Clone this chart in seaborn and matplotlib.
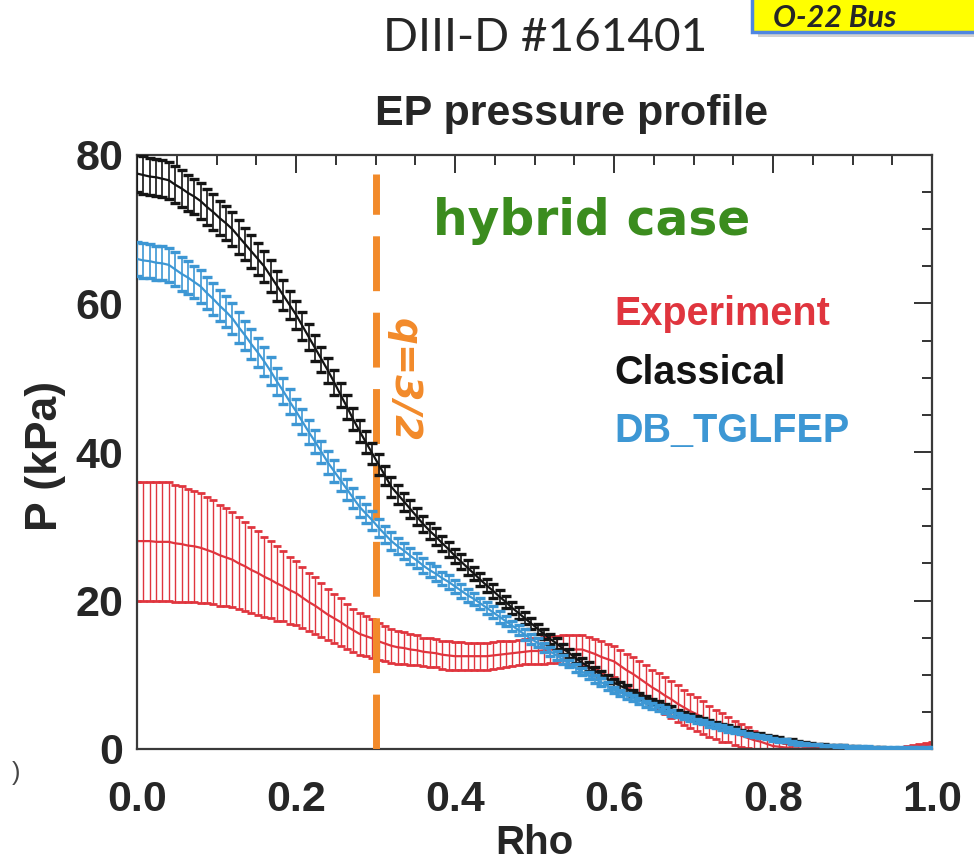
import numpy as np
import pandas as pd
import matplotlib
matplotlib.use("Agg")
import matplotlib.pyplot as plt
import seaborn as sns
from matplotlib.ticker import MultipleLocator
from matplotlib.patches import Rectangle
from matplotlib.font_manager import FontProperties

# normalized minor radius grid (step 0.008)
rho = np.linspace(0.0, 1.0, 126)

# EP pressure [kPa] and 1-sigma uncertainty for each profile
p_experiment = [
    28.0, 28.0, 28.0, 27.9, 27.9, 27.9, 27.7, 27.6, 27.4, 27.3,
    27.1, 26.8, 26.5, 26.1, 25.8, 25.5, 25.0, 24.6, 24.1, 23.7,
    23.2, 22.8, 22.3, 21.9, 21.4, 21.0, 20.4, 19.8, 19.3, 18.7,
    18.1, 17.6, 17.1, 16.5, 16.0, 15.5, 15.2, 14.9, 14.5, 14.2,
    13.9, 13.7, 13.6, 13.4, 13.3, 13.1, 13.0, 12.9, 12.7, 12.6,
    12.5, 12.5, 12.5, 12.5, 12.5, 12.5, 12.6, 12.7, 12.8, 12.9,
    13.0, 13.1, 13.2, 13.2, 13.3, 13.4, 13.4, 13.4, 13.4, 13.4,
    13.4, 13.1, 12.8, 12.4, 12.1, 11.8, 11.2, 10.6, 10.1, 9.5,
    8.9, 8.3, 7.8, 7.2, 6.7, 6.1, 5.6, 5.1, 4.7, 4.2,
    3.7, 3.3, 2.9, 2.6, 2.2, 1.8, 1.5, 1.2, 1.0, 0.7,
    0.4, 0.3, 0.2, 0.1, 0.1, 0.0, 0.0, 0.0, 0.0, 0.0,
    0.0, 0.0, 0.0, 0.0, 0.0, 0.0, 0.0, 0.0, 0.0, 0.1,
    0.1, 0.2, 0.3, 0.4, 0.5, 0.6,
]
err_experiment = [
    8.0, 8.0, 8.0, 8.0, 8.0, 8.0, 7.9, 7.8, 7.6, 7.5,
    7.4, 7.2, 7.0, 6.8, 6.6, 6.4, 6.2, 6.0, 5.8, 5.6,
    5.4, 5.2, 5.0, 4.7, 4.5, 4.3, 4.1, 3.9, 3.8, 3.6,
    3.4, 3.3, 3.2, 3.0, 2.9, 2.8, 2.7, 2.6, 2.5, 2.4,
    2.3, 2.2, 2.1, 2.1, 2.0, 1.9, 1.9, 1.9, 1.9, 1.9,
    1.9, 1.9, 1.8, 1.8, 1.8, 1.8, 1.8, 1.8, 1.7, 1.7,
    1.7, 1.7, 1.7, 1.8, 1.8, 1.8, 1.8, 1.9, 1.9, 2.0,
    2.0, 2.0, 2.0, 2.1, 2.1, 2.1, 2.2, 2.2, 2.3, 2.3,
    2.4, 2.4, 2.4, 2.5, 2.5, 2.5, 2.4, 2.3, 2.3, 2.2,
    2.1, 2.0, 1.9, 1.7, 1.6, 1.5, 1.4, 1.2, 1.1, 0.9,
    0.8, 0.7, 0.6, 0.5, 0.4, 0.3, 0.3, 0.2, 0.2, 0.1,
    0.1, 0.1, 0.1, 0.1, 0.1, 0.1, 0.1, 0.1, 0.2, 0.2,
    0.2, 0.2, 0.3, 0.3, 0.3, 0.3,
]
p_classical = [
    77.5, 77.3, 77.1, 77.0, 76.8, 76.6, 76.0, 75.5, 74.9, 74.4,
    73.8, 73.0, 72.3, 71.5, 70.8, 70.0, 69.0, 68.0, 67.0, 66.0,
    65.0, 63.7, 62.4, 61.1, 59.8, 58.5, 57.0, 55.5, 54.0, 52.5,
    51.0, 49.4, 47.7, 46.1, 44.4, 42.8, 41.3, 39.8, 38.3, 36.8,
    35.3, 34.3, 33.3, 32.3, 31.3, 30.3, 29.4, 28.6, 27.7, 26.9,
    26.0, 25.2, 24.4, 23.6, 22.8, 22.0, 21.3, 20.5, 19.8, 19.0,
    18.3, 17.6, 16.9, 16.2, 15.5, 14.8, 14.2, 13.5, 12.9, 12.2,
    11.6, 11.1, 10.5, 10.0, 9.4, 8.9, 8.5, 8.1, 7.6, 7.2,
    6.8, 6.4, 6.1, 5.7, 5.4, 5.0, 4.7, 4.4, 4.2, 3.9,
    3.6, 3.4, 3.1, 2.9, 2.6, 2.4, 2.2, 2.0, 1.9, 1.7,
    1.5, 1.4, 1.2, 1.1, 0.9, 0.8, 0.7, 0.6, 0.6, 0.5,
    0.4, 0.4, 0.3, 0.3, 0.2, 0.2, 0.2, 0.2, 0.1, 0.1,
    0.1, 0.1, 0.1, 0.0, 0.0, 0.0,
]
err_classical = [
    2.5, 2.5, 2.5, 2.5, 2.5, 2.5, 2.5, 2.5, 2.4, 2.4,
    2.4, 2.4, 2.4, 2.3, 2.3, 2.3, 2.3, 2.2, 2.2, 2.1,
    2.1, 2.1, 2.0, 2.0, 1.9, 1.9, 1.9, 1.8, 1.8, 1.7,
    1.7, 1.7, 1.6, 1.6, 1.5, 1.5, 1.5, 1.4, 1.4, 1.3,
    1.3, 1.3, 1.2, 1.2, 1.1, 1.1, 1.1, 1.1, 1.0, 1.0,
    1.0, 1.0, 1.0, 0.9, 0.9, 0.9, 0.9, 0.9, 0.8, 0.8,
    0.8, 0.8, 0.8, 0.7, 0.7, 0.7, 0.7, 0.7, 0.6, 0.6,
    0.6, 0.6, 0.6, 0.5, 0.5, 0.5, 0.5, 0.5, 0.4, 0.4,
    0.4, 0.4, 0.4, 0.4, 0.4, 0.3, 0.3, 0.3, 0.3, 0.3,
    0.3, 0.3, 0.3, 0.3, 0.3, 0.2, 0.2, 0.2, 0.2, 0.2,
    0.2, 0.2, 0.2, 0.2, 0.2, 0.1, 0.1, 0.1, 0.1, 0.1,
    0.1, 0.1, 0.1, 0.1, 0.1, 0.1, 0.1, 0.1, 0.1, 0.1,
    0.1, 0.1, 0.1, 0.1, 0.1, 0.1,
]
p_tglfep = [
    66.0, 65.8, 65.7, 65.5, 65.4, 65.2, 64.6, 64.0, 63.5, 62.9,
    62.3, 61.4, 60.6, 59.7, 58.9, 58.0, 56.8, 55.7, 54.5, 53.4,
    52.2, 50.9, 49.5, 48.2, 46.8, 45.5, 44.1, 42.7, 41.4, 40.0,
    38.6, 37.4, 36.2, 35.0, 33.8, 32.6, 31.7, 30.8, 29.8, 28.9,
    28.0, 27.3, 26.7, 26.0, 25.4, 24.7, 24.1, 23.6, 23.0, 22.5,
    21.9, 21.3, 20.7, 20.2, 19.6, 19.0, 18.4, 17.8, 17.2, 16.6,
    16.0, 15.4, 14.8, 14.3, 13.7, 13.1, 12.6, 12.0, 11.5, 10.9,
    10.4, 9.9, 9.4, 9.0, 8.5, 8.0, 7.6, 7.2, 6.9, 6.5,
    6.1, 5.8, 5.5, 5.2, 4.9, 4.6, 4.3, 4.1, 3.8, 3.6,
    3.3, 3.1, 2.9, 2.6, 2.4, 2.2, 2.0, 1.8, 1.7, 1.5,
    1.3, 1.2, 1.1, 0.9, 0.8, 0.7, 0.6, 0.6, 0.5, 0.5,
    0.4, 0.4, 0.3, 0.3, 0.3, 0.25, 0.2, 0.2, 0.2, 0.2,
    0.2, 0.2, 0.2, 0.2, 0.2, 0.2,
]
err_tglfep = [
    2.3, 2.3, 2.3, 2.3, 2.3, 2.3, 2.3, 2.3, 2.2, 2.2,
    2.2, 2.2, 2.2, 2.1, 2.1, 2.1, 2.1, 2.0, 2.0, 1.9,
    1.9, 1.9, 1.8, 1.8, 1.7, 1.7, 1.7, 1.6, 1.6, 1.5,
    1.5, 1.5, 1.4, 1.4, 1.3, 1.3, 1.3, 1.3, 1.2, 1.2,
    1.2, 1.1, 1.1, 1.1, 1.0, 1.0, 1.0, 1.0, 0.9, 0.9,
    0.9, 0.9, 0.9, 0.8, 0.8, 0.8, 0.8, 0.8, 0.7, 0.7,
    0.7, 0.7, 0.7, 0.6, 0.6, 0.6, 0.6, 0.6, 0.5, 0.5,
    0.5, 0.5, 0.5, 0.5, 0.5, 0.4, 0.4, 0.4, 0.4, 0.4,
    0.4, 0.4, 0.4, 0.4, 0.4, 0.3, 0.3, 0.3, 0.3, 0.3,
    0.3, 0.3, 0.3, 0.3, 0.3, 0.2, 0.2, 0.2, 0.2, 0.2,
    0.2, 0.2, 0.2, 0.2, 0.2, 0.1, 0.1, 0.1, 0.1, 0.1,
    0.1, 0.1, 0.1, 0.1, 0.1, 0.1, 0.1, 0.1, 0.1, 0.1,
    0.1, 0.1, 0.1, 0.1, 0.1, 0.1,
]

series_names = ["Experiment", "Classical", "DB_TGLFEP"]
series_colors = {"Experiment": "#e0353e", "Classical": "#141414", "DB_TGLFEP": "#3d97d4"}

# rational surface q=3/2
q_rho = 0.3
q_line_top = 77.5

xticks = [0.0, 0.2, 0.4, 0.6, 0.8, 1.0]
xtick_labels = ["0.0", "0.2", "0.4", "0.6", "0.8", "1.0"]
yticks = [0, 20, 40, 60, 80]
ytick_labels = ["0", "20", "40", "60", "80"]

df = pd.concat([
    pd.DataFrame({"rho": rho, "P": p_experiment, "err": err_experiment, "series": "Experiment"}),
    pd.DataFrame({"rho": rho, "P": p_classical, "err": err_classical, "series": "Classical"}),
    pd.DataFrame({"rho": rho, "P": p_tglfep, "err": err_tglfep, "series": "DB_TGLFEP"}),
], ignore_index=True)

sns.set_style("white")
plt.rcParams["font.family"] = ["Liberation Sans", "DejaVu Sans"]

sans = ["Liberation Sans", "DejaVu Sans"]
tick_fp = FontProperties(family=sans, weight="bold", size=31)

fig = plt.figure(figsize=(9.74, 8.64), dpi=100)
ax = fig.add_axes([137 / 974, 1 - 749 / 864, 795 / 974, 594 / 864])

styles = {
    "Experiment": dict(elinewidth=1.0, capsize=3.0, capthick=2.0, lw=1.6, z=2),
    "Classical": dict(elinewidth=1.2, capsize=3.8, capthick=2.4, lw=1.6, z=4),
    "DB_TGLFEP": dict(elinewidth=1.2, capsize=3.8, capthick=2.4, lw=1.6, z=5),
}
for name in series_names:
    sub = df[df["series"] == name]
    st = styles[name]
    c = series_colors[name]
    ax.errorbar(sub["rho"], sub["P"], yerr=sub["err"], fmt="none", ecolor=c,
                elinewidth=st["elinewidth"], capsize=st["capsize"],
                capthick=st["capthick"], zorder=st["z"])
    sns.lineplot(data=sub, x="rho", y="P", color=c, lw=st["lw"], ax=ax,
                 estimator=None, zorder=st["z"] + 0.1)

# dashed marker of the q=3/2 surface
ax.plot([q_rho, q_rho], [0, q_line_top], color="#f28a2a", lw=5.0,
        linestyle=(0, (7.9, 3.1)), solid_capstyle="butt",
        dash_capstyle="butt", zorder=3)

ax.set_xlim(0, 1.0)
ax.set_ylim(0, 80)
ax.set_xticks(xticks)
ax.set_xticklabels(xtick_labels, fontproperties=tick_fp)
ax.set_yticks(yticks)
ax.set_yticklabels(ytick_labels, fontproperties=tick_fp)
ax.xaxis.set_minor_locator(MultipleLocator(0.05))
ax.yaxis.set_minor_locator(MultipleLocator(5))
ax.tick_params(which="both", direction="in", top=True, right=True,
               color="#333333", width=1.4)
ax.tick_params(which="major", length=13)
ax.tick_params(which="minor", length=7)
ax.tick_params(axis="x", which="major", pad=22)
ax.tick_params(axis="y", which="major", pad=10)
for sp in ax.spines.values():
    sp.set_linewidth(1.6)
    sp.set_color("#3a3a3a")

ax.set_xlabel("Rho", fontproperties=FontProperties(family=sans, weight="bold", size=29))
ax.xaxis.set_label_coords(0.5, -0.126)
ax.set_ylabel("P (kPa)", fontproperties=FontProperties(family=sans, weight="bold", size=32))
ax.yaxis.set_label_coords(-0.089, 0.493)

# in-plot annotations
ax.text(0.372, 69.2, "hybrid case", color="#3b8c1e", fontsize=35, fontweight="bold",
        family=["DejaVu Sans"], va="baseline", ha="left")
ax.text(0.601, 57.1, "Experiment", color=series_colors["Experiment"], fontsize=28.5,
        fontweight="bold", va="baseline", ha="left")
ax.text(0.601, 49.2, "Classical", color=series_colors["Classical"], fontsize=28.5,
        fontweight="bold", va="baseline", ha="left")
ax.text(0.601, 41.4, "DB_TGLFEP", color=series_colors["DB_TGLFEP"], fontsize=28.5,
        fontweight="bold", va="baseline", ha="left")
ax.text(0.336, 49.7, "q=3/2", color="#f28a2a", fontsize=27, fontweight="bold",
        style="italic", family=["DejaVu Sans"], rotation=270, ha="center", va="center")

# titles
fig.text(572 / 974, 1 - 125 / 864, "EP pressure profile", ha="center", va="baseline",
         fontproperties=FontProperties(family=sans, weight="bold", size=31))
fig.text(545 / 974, 1 - 51 / 864, "DIII-D #161401", ha="center", va="baseline",
         fontsize=33, family=["Lato", "DejaVu Sans"])

# callout box at the top right corner
fig.patches.append(Rectangle((758 / 974, 1 - 37 / 864), 0.3, 0.1, transform=fig.transFigure,
                             facecolor="#9a9a9a", edgecolor="none", alpha=0.45, zorder=0))
fig.patches.append(Rectangle((752 / 974, 1 - 32 / 864), 0.3, 0.1, transform=fig.transFigure,
                             facecolor="#ffff00", edgecolor="#4f86e0", lw=2.5, zorder=1))
fig.text(773 / 974, 1 - 27 / 864, "O-22 Bus", ha="left", va="baseline", fontsize=22,
         fontweight="bold", style="italic", family=["Lato", "DejaVu Sans"], zorder=2)
fig.text(12 / 974, 1 - 780 / 864, ")", fontsize=18, color="#444444", ha="left", va="baseline")

fig.savefig("out.png", dpi=100)
